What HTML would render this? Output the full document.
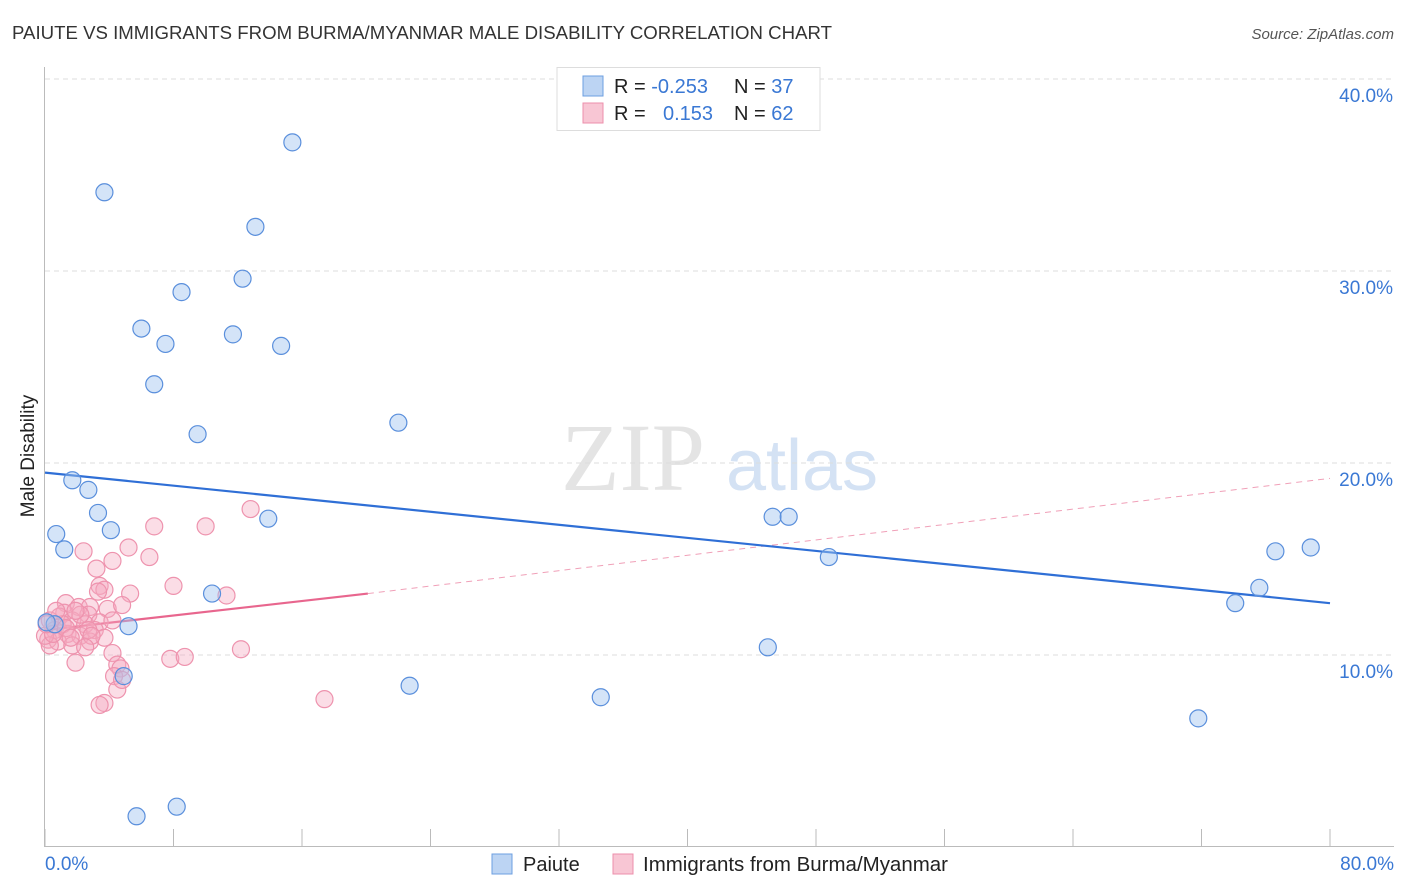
<!DOCTYPE html>
<html><head><meta charset="utf-8"><style>
body{margin:0;background:#fff;font-family:"Liberation Sans",sans-serif}
svg{display:block}
</style></head><body>
<svg id="chart" width="1406" height="892">
<text x="12" y="39" font-size="18" fill="#333" textLength="820" lengthAdjust="spacingAndGlyphs">PAIUTE VS IMMIGRANTS FROM BURMA/MYANMAR MALE DISABILITY CORRELATION CHART</text>
<text x="1394" y="39" font-size="15" fill="#555" font-style="italic" text-anchor="end">Source: ZipAtlas.com</text>
<g>
<text x="633" y="490" font-size="96" fill="#e4e4e4" font-family="Liberation Serif,serif" text-anchor="middle">ZIP</text>
<text x="802" y="490" font-size="72" fill="#d4e2f4" text-anchor="middle">atlas</text>
</g>
<g id="grid"></g>
<line x1="44.5" y1="67" x2="44.5" y2="847" stroke="#bbb"/>
<line x1="44" y1="846.5" x2="1394" y2="846.5" stroke="#bbb"/>
<text x="34" y="456" font-size="19" fill="#222" transform="rotate(-90 34 456)" text-anchor="middle">Male Disability</text>
<text x="45" y="870" font-size="19" fill="#3a78d4">0.0%</text>
<text x="1394" y="870" font-size="19" fill="#3a78d4" text-anchor="end">80.0%</text>
<g id="lines"></g>
<g id="pts"></g>
<g>
<rect x="557" y="67.5" width="263" height="63" fill="#fff" stroke="#ddd"/>
<rect x="583" y="76" width="20" height="20" fill="#bcd4f3" stroke="#6d9fe0"/>
<rect x="583" y="103" width="20" height="20" fill="#f8c6d4" stroke="#ec8fab"/>
<text x="614" y="93" font-size="20" fill="#222">R = <tspan fill="#3a78d4">-0.253</tspan></text>
<text x="734" y="93" font-size="20" fill="#222">N = <tspan fill="#3a78d4">37</tspan></text>
<text x="614" y="120" font-size="20" fill="#222">R = <tspan fill="#3a78d4" x="663">0.153</tspan></text>
<text x="734" y="120" font-size="20" fill="#222">N = <tspan fill="#3a78d4">62</tspan></text>
</g>
<g>
<rect x="492" y="854" width="20" height="20" fill="#bcd4f3" stroke="#6d9fe0"/>
<text x="523" y="871" font-size="20" fill="#222">Paiute</text>
<rect x="613" y="854" width="20" height="20" fill="#f8c6d4" stroke="#ec8fab"/>
<text x="643" y="871" font-size="20" fill="#222" textLength="305" lengthAdjust="spacingAndGlyphs">Immigrants from Burma/Myanmar</text>
</g>
</svg>
<script>
const yTicks=[10,20,30,40];
const yTickLabels=["10.0%","20.0%","30.0%","40.0%"];
const xTicks=[0,8,16,24,32,40,48,56,64,72,80];
const blueX=[15.4,3.7,13.1,12.3,8.5,6.0,11.7,7.5,14.7,6.8,9.5,22.0,1.7,2.7,3.3,13.9,4.1,0.7,1.2,10.4,5.2,4.9,22.7,34.6,45.0,45.3,46.3,48.8,71.8,74.1,75.6,76.6,78.8,5.7,8.2,0.6,0.1];
const blueY=[36.7,34.1,32.3,29.6,28.9,27.0,26.7,26.2,26.1,24.1,21.5,22.1,19.1,18.6,17.4,17.1,16.5,16.3,15.5,13.2,11.5,8.9,8.4,7.8,10.4,17.2,17.2,15.1,6.7,12.7,13.5,15.4,15.6,1.6,2.1,11.6,11.7];
const pinkX=[6.8,10.0,12.8,2.4,5.2,4.2,6.5,3.2,8.0,11.3,5.3,3.4,3.7,3.3,1.3,2.1,3.9,1.2,2.8,4.8,2.7,0.9,1.7,2.5,3.4,4.2,0.3,0.6,1.4,2.2,3.1,0.2,0.8,1.7,2.8,3.7,1.9,4.2,4.5,4.7,7.8,8.7,12.2,4.3,4.5,3.7,3.4,17.4,4.8,0.3,0.0,1.1,2.2,0.5,1.3,2.7,2.9,0.1,0.7,1.9,2.5,1.6];
const pinkY=[16.7,16.7,17.6,15.4,15.6,14.9,15.1,14.5,13.6,13.1,13.2,13.6,13.4,13.3,12.7,12.5,12.4,12.2,12.5,12.6,12.1,12.0,11.8,11.6,11.7,11.8,11.8,11.3,11.1,11.0,11.3,10.8,10.7,10.5,10.7,10.9,9.6,10.1,9.5,9.3,9.8,9.9,10.3,8.9,8.2,7.5,7.4,7.7,8.7,10.5,11.0,11.6,12.1,11.1,11.4,11.3,11.0,11.6,12.3,12.3,10.4,10.9];
const blueTrend=[[0,19.5],[80,12.7]];
const pinkTrendSolid=[[0,11.3],[20.1,13.2]];
const pinkTrendDash=[[20.1,13.2],[80,19.2]];
const NS="http://www.w3.org/2000/svg";
const sx=v=>45+v*(1285/80);
const sy=v=>847-v*19.2;
function mk(t,a,p){const e=document.createElementNS(NS,t);for(const k in a)e.setAttribute(k,a[k]);p.appendChild(e);return e;}
const grid=document.getElementById('grid');
yTicks.forEach((t,i)=>{
 const l=mk('line',{x1:45,x2:1394,y1:sy(t),y2:sy(t),stroke:'#ddd','stroke-dasharray':'5,4'},grid);
 
 
 const tx=mk('text',{x:1393,y:sy(t)+23,'font-size':19,fill:'#3a78d4','text-anchor':'end'},grid);
 tx.textContent=yTickLabels[i];
 
 
});
xTicks.forEach(t=>{
 const l=mk('line',{x1:sx(t),x2:sx(t),y1:829,y2:847,stroke:'#bbb'},grid);
 
 
});
const pts=document.getElementById('pts');
pinkX.forEach((x,i)=>{
 const c=mk('circle',{cx:sx(x),cy:sy(pinkY[i]),r:8.5,fill:'rgba(246,170,192,0.4)',stroke:'#ee93ae','stroke-width':1.2},pts);
 
 
});
blueX.forEach((x,i)=>{
 const c=mk('circle',{cx:sx(x),cy:sy(blueY[i]),r:8.5,fill:'rgba(160,196,240,0.45)',stroke:'#5a8fdc','stroke-width':1.2},pts);
 
 
});
const lines=document.getElementById('lines');
function ln(d,st,w,dash,name){
 const l=mk('line',{x1:sx(d[0][0]),y1:sy(d[0][1]),x2:sx(d[1][0]),y2:sy(d[1][1]),stroke:st,'stroke-width':w},lines);
 if(dash)l.setAttribute('stroke-dasharray',dash);
 
 
}
ln(pinkTrendDash,'#f0a0b8',1,'6,5','burma-trend-dashed');
ln(blueTrend,'#2f6fd6',2.2,null,'paiute-trend-line');
ln(pinkTrendSolid,'#e8668e',2.2,null,'burma-trend-line');
</script>
</body></html>
